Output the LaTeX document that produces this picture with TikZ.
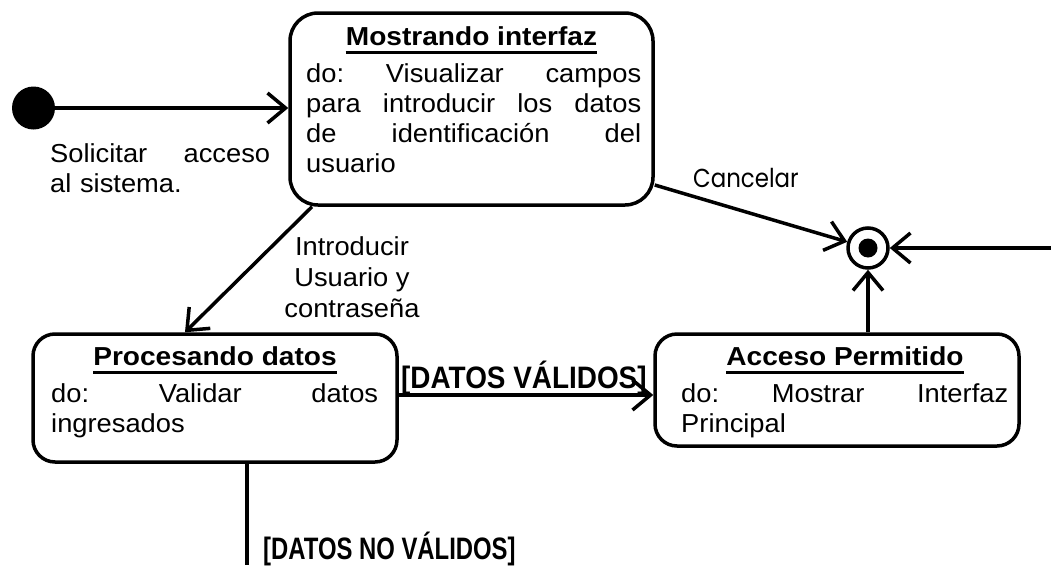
\documentclass[tikz,border=0pt]{standalone}
\usepackage{fontspec}
\setmainfont{Liberation Sans}
\newfontfamily\bodyf{Liberation Sans}[FakeStretch=1.05]
\newfontfamily\titlef{Liberation Sans}[FakeStretch=1.08]
\newfontfamily\guardfa{Liberation Sans}[FakeStretch=0.9]
\newfontfamily\guardfb{Liberation Sans}[FakeStretch=0.77]
\newfontfamily\cancelf{Poppins}[FakeStretch=0.88]
\usetikzlibrary{arrows.meta,calc}
\begin{document}
\begin{tikzpicture}[x=1pt,y=-1pt,
  statebox/.style={draw, line width=3.5pt, rounded corners=22pt, inner sep=0pt},
  ttl/.style={font=\titlef\bfseries\fontsize{26}{30}\selectfont, inner sep=0pt, anchor=base},
  bodytext/.style={font=\bodyf\fontsize{26}{30}\selectfont, inner sep=0pt, anchor=north west, align=left},
  lbl/.style={font=\bodyf\fontsize{26}{31}\selectfont, inner sep=0pt},
  guard/.style={inner sep=0pt, anchor=base west},
  arr/.style={line width=3.5pt, -{Straight Barb[length=18pt,width=30pt,line width=3.5pt]}},
  plainline/.style={line width=3.5pt},
  uline/.style={line width=3pt},
]
\fill[white] (0,0) rectangle (1051,565);
\useasboundingbox (0,0) rectangle (1051,565);

% states
\node[circle, fill, minimum size=43pt, inner sep=0pt] (init) at (33.5,108) {};
\node[statebox, rounded corners=28pt, minimum width=363pt, minimum height=192pt] (mo) at (471.5,109) {};
\node[statebox, minimum width=364pt, minimum height=128pt] (pr) at (215,398) {};
\node[statebox, minimum width=364pt, minimum height=112pt] (ac) at (837,390) {};
\node[circle, draw, line width=3.5pt, minimum size=40pt, inner sep=0pt,
      path picture={\fill (path picture bounding box.center) circle (9.5pt);}] (fin) at (868,248) {};

% titles
\node[ttl] (mot) at (471.5,45) {Mostrando interfaz};
\draw[uline] ([yshift=-7pt]mot.base west) -- ([yshift=-7pt]mot.base east);
\node[ttl] (prt) at (215,365) {Procesando datos};
\draw[uline] ([yshift=-7pt]prt.base west) -- ([yshift=-7pt]prt.base east);
\node[ttl] (act) at (845,365) {Acceso Permitido};
\draw[uline] ([yshift=-7pt]act.base west) -- ([yshift=-7pt]act.base east);

% bodies
\node[bodytext, text width=335pt] (mob) at (306,61)
  {\strut do:\hfill Visualizar\hfill campos\\ para\hfill introducir\hfill los\hfill datos\\ de\hfill identificación\hfill del\\ usuario};
\node[bodytext, text width=327pt] (prb) at (51,381)
  {\strut do:\hfill Validar\hfill datos\\ ingresados};
\node[bodytext, text width=327pt] (acb) at (681,381)
  {\strut do:\hfill Mostrar\hfill Interfaz\\ Principal};

% labels
\node[bodytext, text width=220pt] (sol) at (50,141)
  {\strut Solicitar\hfill acceso\\ al sistema.};
\node[lbl, align=center, anchor=north] (intro) at (352,233.3)
  {\strut Introducir\\ Usuario y\\ contraseña};
\node[font=\cancelf\fontsize{26}{30}\selectfont, inner sep=0pt, anchor=base west] (can) at (693,187) {Cancelar};
\node[guard, font=\guardfa\bfseries\fontsize{31}{36}\selectfont] (g1) at (401,388) {[DATOS VÁLIDOS]};
\node[guard, font=\guardfb\bfseries\fontsize{31}{36}\selectfont] (g2) at (263,559) {[DATOS NO VÁLIDOS]};

% connectors
\coordinate (rt) at (1051,248);
\coordinate (bt) at (247,565);
\draw[arr] (init) -- (init -| mo.west);
\draw[arr] ([xshift=-159.5pt]mo.south) -- ([xshift=-30pt]pr.north);
\draw[arr] ([yshift=-76pt]mo.east) -- (fin);
\draw[arr] ([yshift=3pt]pr.east) coordinate (p1) -- (p1 -| ac.west);
\draw[arr] (fin |- ac.north) -- (fin);
\draw[arr] (rt) -- (fin);
\draw[plainline] (bt |- pr.south) -- (bt);
\end{tikzpicture}
\end{document}
